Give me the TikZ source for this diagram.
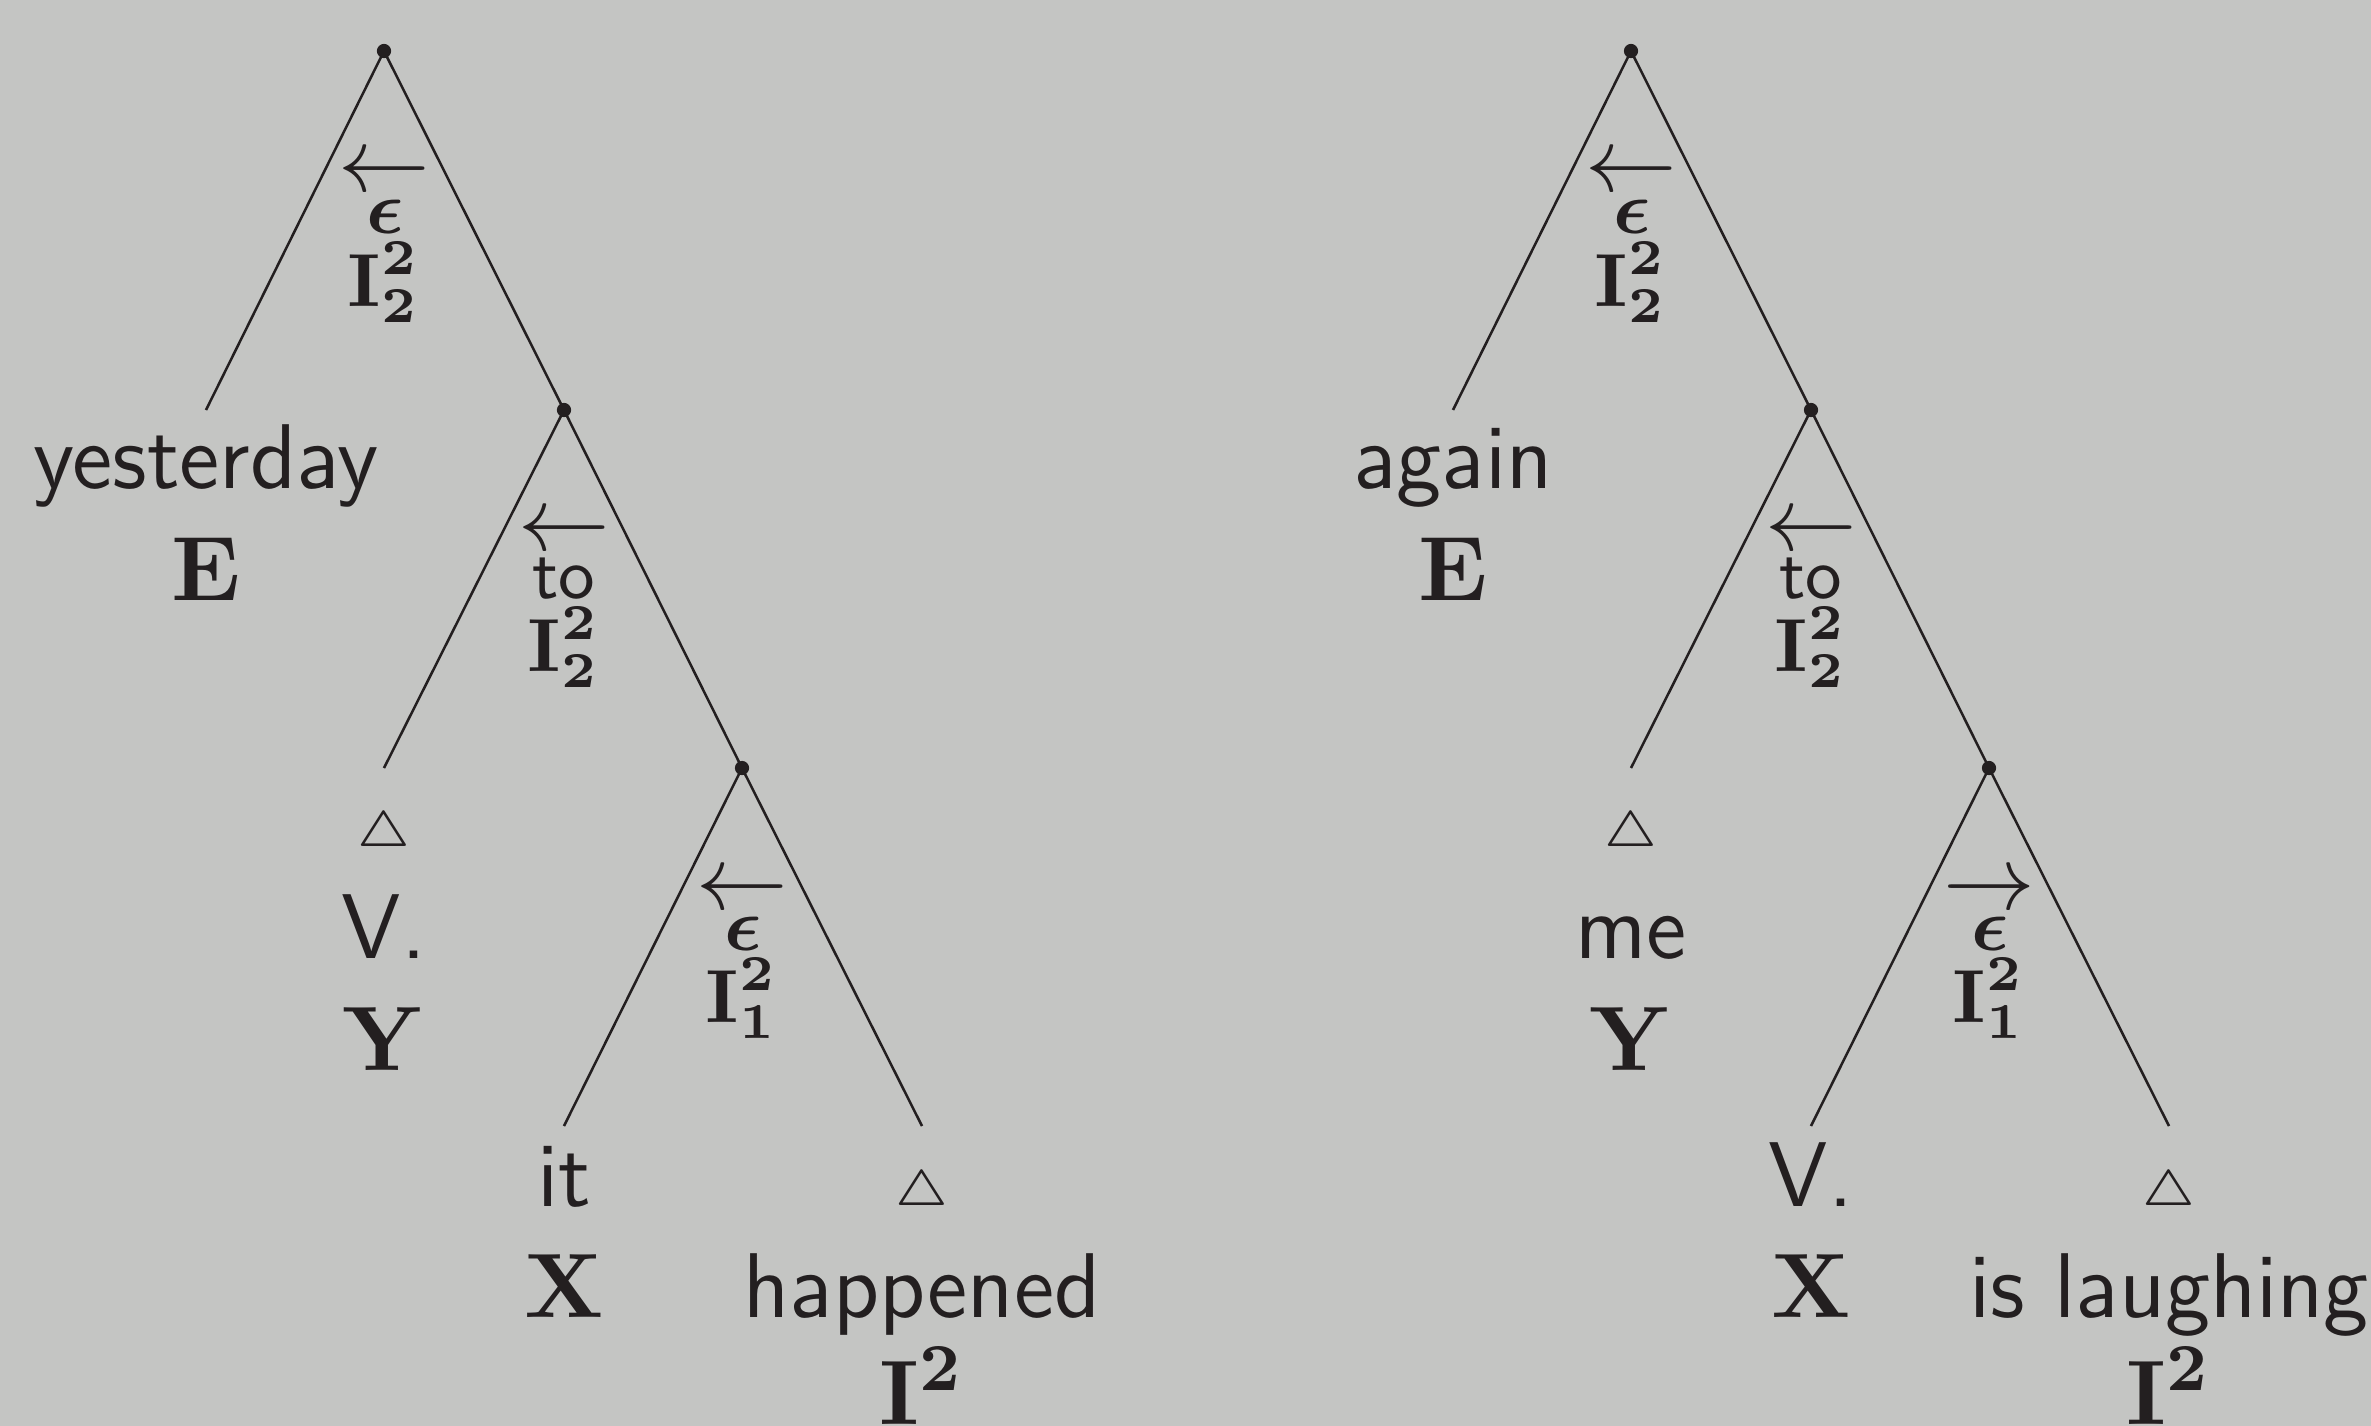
\documentclass[tikz,border=0pt]{standalone}
\usepackage{amsmath,bm}
\definecolor{bg}{RGB}{196,197,195}
\definecolor{ink}{RGB}{35,31,32}
\newcommand{\lowsub}[1]{_{\lower0.4pt\hbox{$\scriptstyle #1$}}}
\tikzset{
 dot/.style={circle,fill=ink,inner sep=0pt,minimum size=1.7pt},
 branch/.style={draw=ink,line width=0.3pt},
 word/.style={anchor=base,inner sep=0pt,text=ink,font=\sffamily\fontsize{11}{13}\selectfont},
 cat/.style={anchor=base,inner sep=0pt,text=ink,font=\fontsize{11}{13}\selectfont\boldmath},
 tri/.style={anchor=base,inner sep=0pt,text=ink,font=\fontsize{6}{7}\selectfont},
 arr/.style={anchor=base,inner sep=0pt,text=ink,font=\fontsize{10.5}{12}\selectfont},
 lab/.style={anchor=base,inner sep=0pt,text=ink,font=\fontsize{9}{11}\selectfont\boldmath},
 labw/.style={anchor=base,inner sep=0pt,text=ink,font=\sffamily\fontsize{8.5}{10}\selectfont},
}
\begin{document}
\begin{tikzpicture}[x=0.1196pt,y=-0.1196pt]
\fill[bg] (0,0) rectangle (2371,1426);
\useasboundingbox (0,0) rectangle (2371,1426);
% ---------- left tree ----------
\node[dot] (a0) at (384,51) {};
\node[dot] (a1) at (564,410) {};
\node[dot] (a2) at (742,768) {};
\coordinate (aA) at (206,410);
\coordinate (aB) at (384,768);
\coordinate (aC) at (564,1126);
\coordinate (aD) at (922,1126);
\draw[branch] (aA) -- (a0.center) -- (a1.center);
\draw[branch] (aB) -- (a1.center) -- (a2.center);
\draw[branch] (aC) -- (a2.center) -- (aD);
% edge labels
\node[arr] (a0arr) at (384,192) {$\leftarrow$};
\node[lab] (a0eps) at (385,233) {$\epsilon$};
\node[lab] (a0cat) at (384,306) {$\mathbf{I}^2\lowsub{2}$};
\node[arr] (a1arr) at (564,550) {$\leftarrow$};
\node[labw] (a1to) at (564,598) {to};
\node[lab] (a1cat) at (564,671) {$\mathbf{I}^2\lowsub{2}$};
\node[arr] (a2arr) at (742,909) {$\leftarrow$};
\node[lab] (a2eps) at (743,950) {$\epsilon$};
\node[lab] (a2cat) at (742,1022) {$\mathbf{I}^2\lowsub{1}$};
% leaves
\node[word] (aAw) at (206,488) {yesterday};
\node[cat] (aAc) at (206,600) {$\mathbf{E}$};
\node[tri] (aBt) at (384,846) {$\triangle$};
\node[word] (aBw) at (384,958) {V.};
\node[cat] (aBc) at (384,1070) {$\mathbf{Y}$};
\node[word] (aCw) at (564,1206) {it};
\node[cat] (aCc) at (564,1317) {$\mathbf{X}$};
\node[tri] (aDt) at (922,1205) {$\triangle$};
\node[word] (aDw) at (922,1317) {happened};
\node[cat] (aDc) at (922,1424) {$\mathbf{I}^2$};
% ---------- right tree ----------
\node[dot] (b0) at (1631,51) {};
\node[dot] (b1) at (1811,410) {};
\node[dot] (b2) at (1989,768) {};
\coordinate (bA) at (1453,410);
\coordinate (bB) at (1631,768);
\coordinate (bC) at (1811,1126);
\coordinate (bD) at (2169,1126);
\draw[branch] (bA) -- (b0.center) -- (b1.center);
\draw[branch] (bB) -- (b1.center) -- (b2.center);
\draw[branch] (bC) -- (b2.center) -- (bD);
% edge labels
\node[arr] (b0arr) at (1631,192) {$\leftarrow$};
\node[lab] (b0eps) at (1632,233) {$\epsilon$};
\node[lab] (b0cat) at (1631,306) {$\mathbf{I}^2\lowsub{2}$};
\node[arr] (b1arr) at (1811,550) {$\leftarrow$};
\node[labw] (b1to) at (1811,598) {to};
\node[lab] (b1cat) at (1811,671) {$\mathbf{I}^2\lowsub{2}$};
\node[arr] (b2arr) at (1989,909) {$\rightarrow$};
\node[lab] (b2eps) at (1990,950) {$\epsilon$};
\node[lab] (b2cat) at (1989,1022) {$\mathbf{I}^2\lowsub{1}$};
% leaves
\node[word] (bAw) at (1453,488) {again};
\node[cat] (bAc) at (1453,600) {$\mathbf{E}$};
\node[tri] (bBt) at (1631,846) {$\triangle$};
\node[word] (bBw) at (1631,958) {me};
\node[cat] (bBc) at (1631,1070) {$\mathbf{Y}$};
\node[word] (bCw) at (1811,1206) {V.};
\node[cat] (bCc) at (1811,1317) {$\mathbf{X}$};
\node[tri] (bDt) at (2169,1205) {$\triangle$};
\node[word] (bDw) at (2169,1317) {is laughing};
\node[cat] (bDc) at (2169,1424) {$\mathbf{I}^2$};
\end{tikzpicture}
\end{document}
